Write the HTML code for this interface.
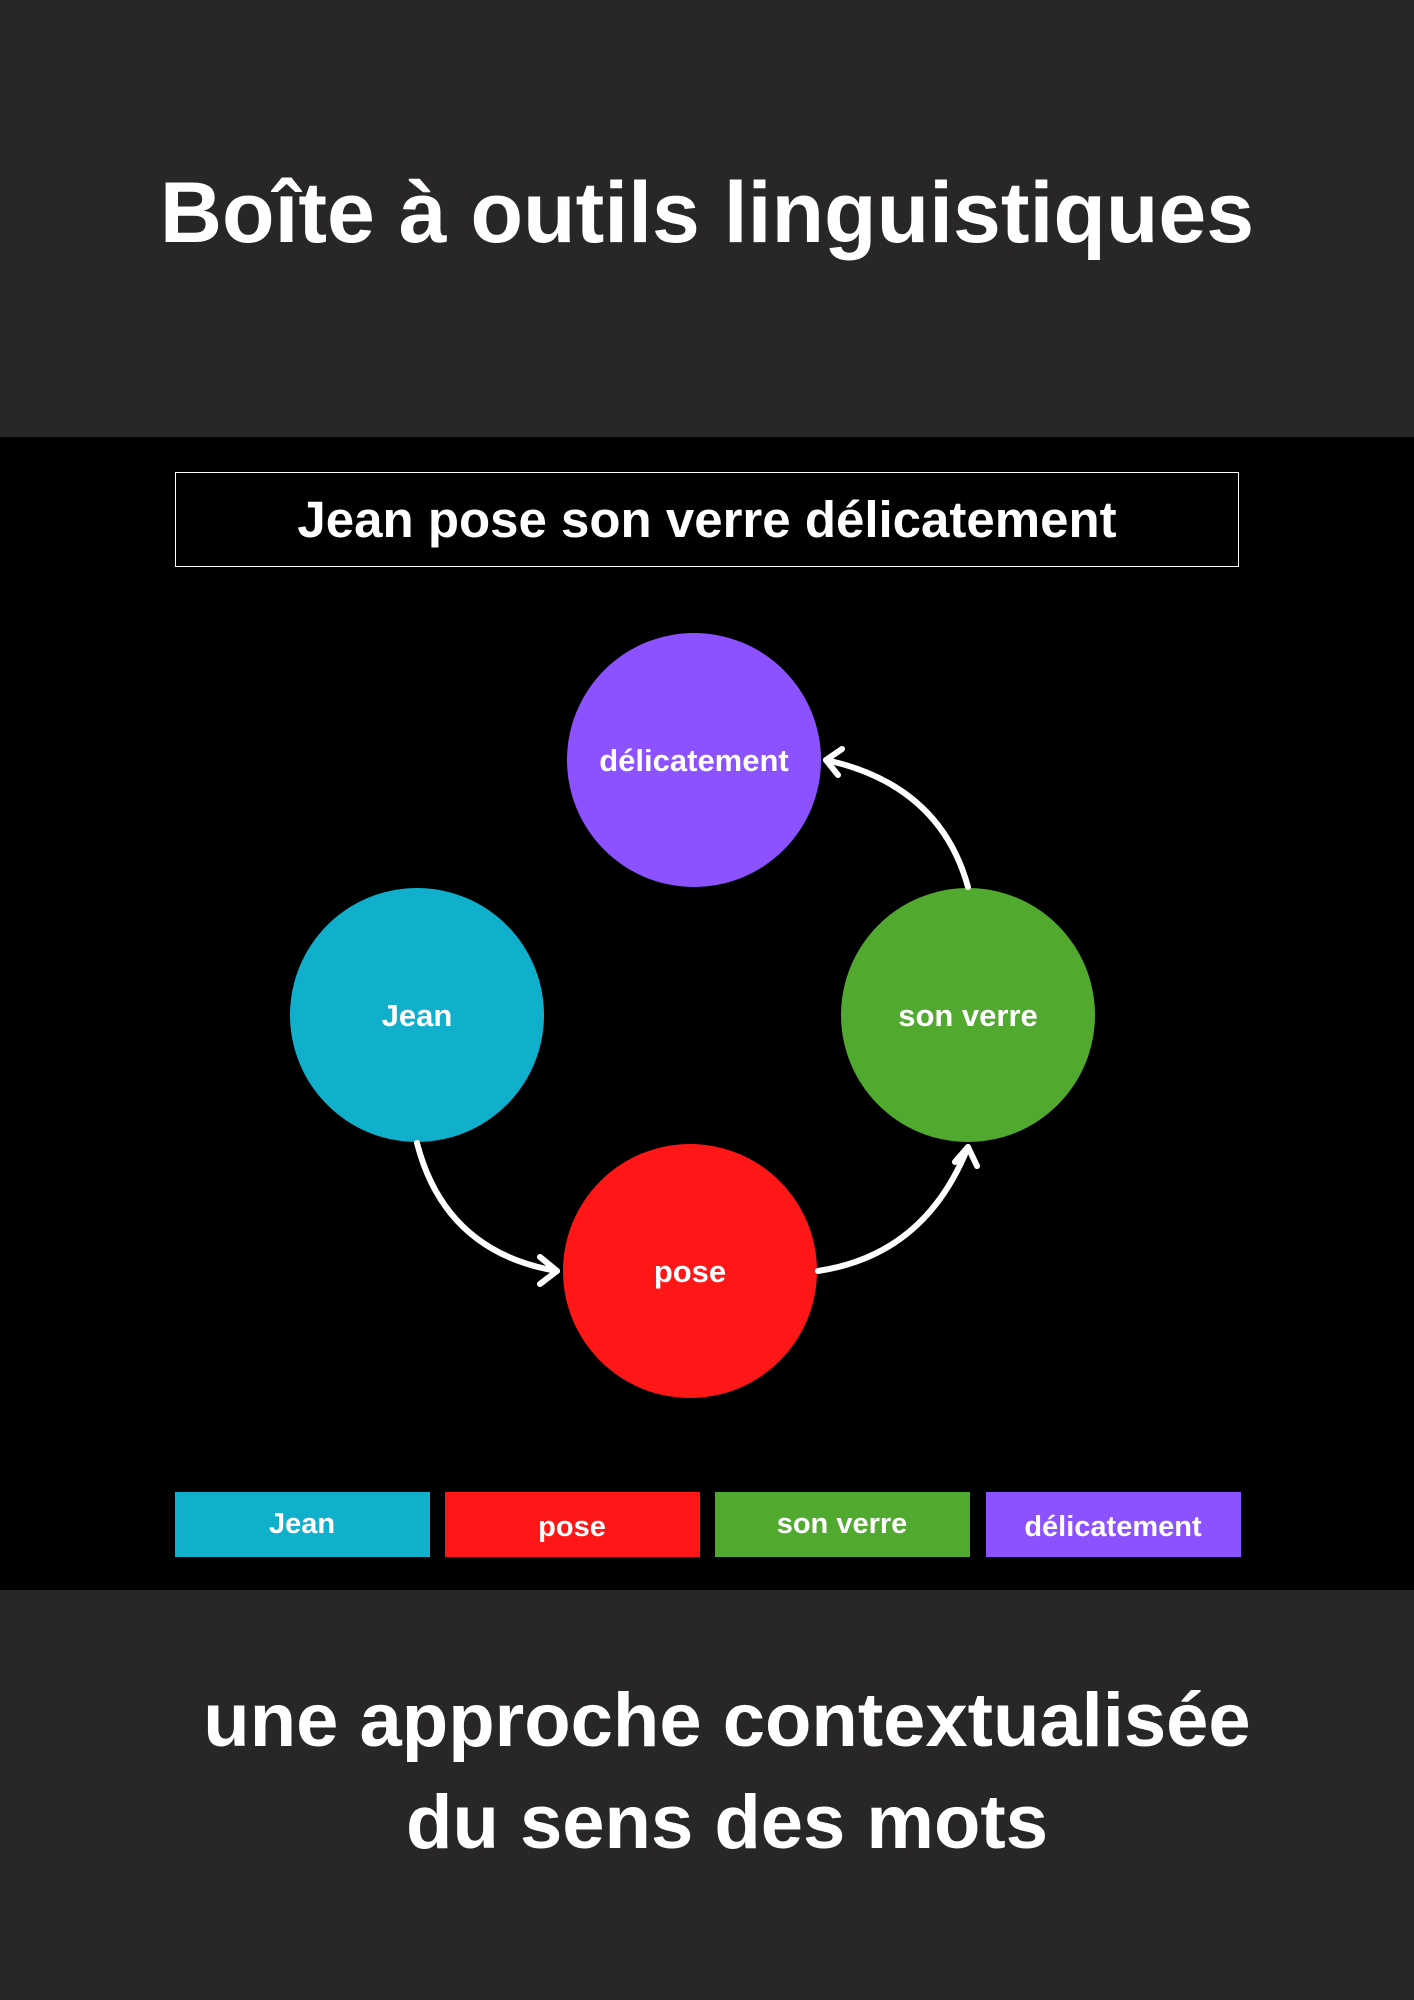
<!DOCTYPE html>
<html><head><meta charset="utf-8"><style>
body{margin:0;width:1414px;height:2000px;background:#282627;font-family:"Liberation Sans",sans-serif;font-weight:bold;color:#fff;position:relative;overflow:hidden}
.abs{position:absolute}
.c{text-align:center}
</style></head><body>
<div class="abs c" style="left:0;width:1414px;top:163px;font-size:86px;line-height:100px">Boîte à outils linguistiques</div>
<div class="abs" style="left:0;top:437px;width:1414px;height:1153px;background:#000"></div>
<div class="abs c" style="left:175px;top:472px;width:1062px;height:93px;border:1.5px solid #fff;font-size:51px;line-height:93px">Jean pose son verre délicatement</div>
<svg class="abs" style="left:0;top:0" width="1414" height="2000">
<circle cx="694" cy="760" r="127" fill="#8c52ff"/>
<circle cx="417" cy="1015" r="127" fill="#10afcc"/>
<circle cx="968" cy="1015" r="127" fill="#52a930"/>
<circle cx="690" cy="1271" r="127" fill="#ff1616"/>
<g fill="none" stroke="#fff" stroke-width="6" stroke-linecap="round" stroke-linejoin="round">
<path d="M417 1143 Q445 1252 557 1271"/><path d="M540 1257 L557 1271 L540 1284"/>
<path d="M818 1271 Q925 1255 968 1147"/><path d="M955 1162 L968 1147 L977 1166"/>
<path d="M968 887 Q940 785 826 760"/><path d="M842 749 L826 760 L838 775"/>
</g>
<g fill="#fff" font-family="Liberation Sans, sans-serif" font-weight="bold" font-size="31" text-anchor="middle">
<text x="694" y="771">délicatement</text>
<text x="417" y="1026">Jean</text>
<text x="968" y="1026">son verre</text>
<text x="690" y="1282">pose</text>
</g>
<rect x="175" y="1492" width="255" height="65" fill="#10afcc"/>
<rect x="445" y="1492" width="255" height="65" fill="#ff1616"/>
<rect x="715" y="1492" width="255" height="65" fill="#52a930"/>
<rect x="986" y="1492" width="255" height="65" fill="#8c52ff"/>
<g fill="#fff" font-family="Liberation Sans, sans-serif" font-weight="bold" font-size="29" text-anchor="middle">
<text x="302" y="1533">Jean</text>
<text x="572" y="1536">pose</text>
<text x="842" y="1533">son verre</text>
<text x="1113" y="1536">délicatement</text>
</g>
</svg>
<div class="abs c" style="left:20px;width:1414px;top:1670px;font-size:76px;line-height:102px">une approche contextualisée<br>du sens des mots</div>
</body></html>
